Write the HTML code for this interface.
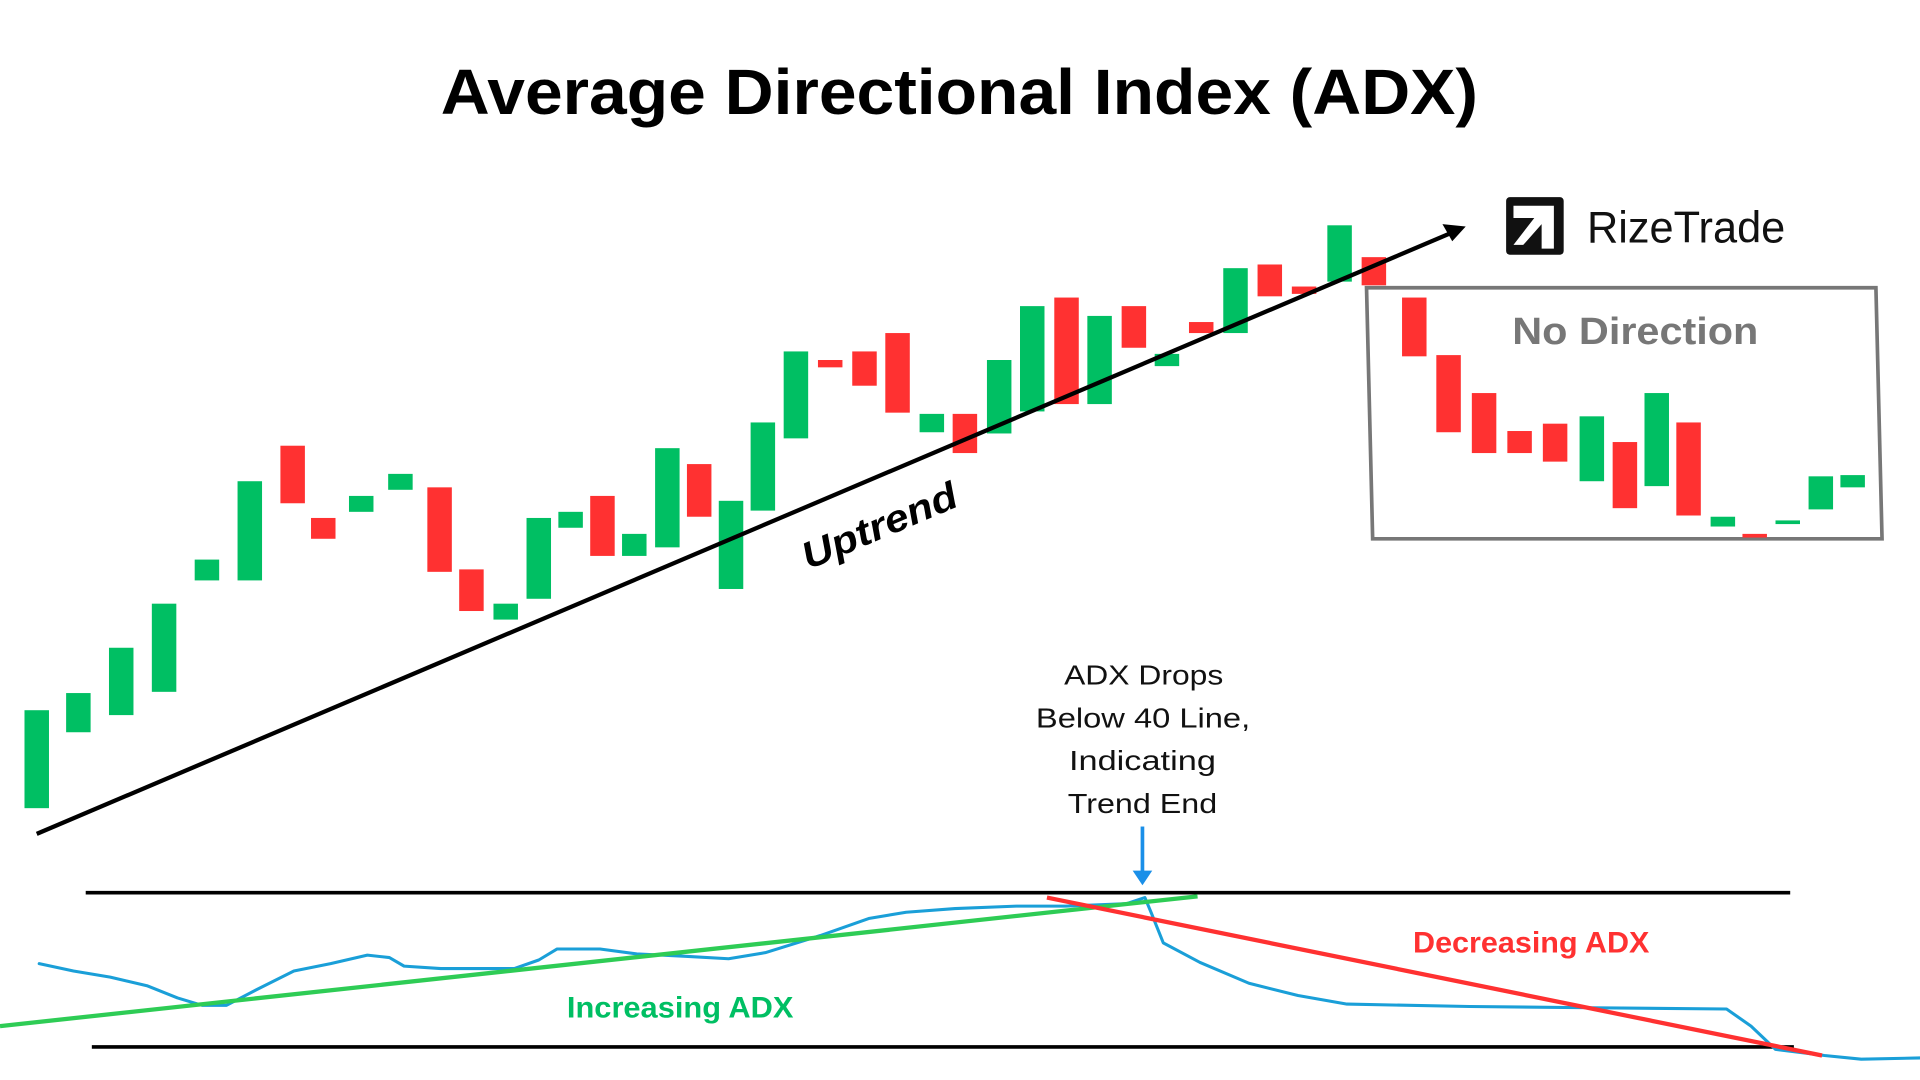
<!DOCTYPE html>
<html><head><meta charset="utf-8"><style>html,body{margin:0;padding:0;background:#fff;}svg{display:block}</style></head>
<body>
<svg width="1920" height="1080" viewBox="0 0 1568 882" preserveAspectRatio="none" xmlns="http://www.w3.org/2000/svg" font-family="Liberation Sans, sans-serif">
<rect width="1568" height="882" fill="#fff"/>
<text x="360" y="93" font-size="52" font-weight="bold" fill="#000" textLength="847" lengthAdjust="spacingAndGlyphs">Average Directional Index (ADX)</text>
<g>
<rect x="1230" y="161" width="47" height="47" rx="3" fill="#111"/>
<path d="M1236 168 H1269 V203 H1259 V183 L1244 200 L1236 200 L1253 178 H1236 Z" fill="#fff"/>
<text x="1296" y="198" font-size="36" fill="#111" textLength="162" lengthAdjust="spacingAndGlyphs">RizeTrade</text>
</g>
<polygon points="1116,235 1532,235 1537,440 1121,440" fill="none" stroke="#777" stroke-width="3"/>
<text x="1235" y="281" font-size="31" font-weight="bold" fill="#777" textLength="201" lengthAdjust="spacingAndGlyphs">No Direction</text>
<g id="c">
<rect x="20" y="580" width="20" height="80" fill="#00bf63"/>
<rect x="54" y="566" width="20" height="32" fill="#00bf63"/>
<rect x="89" y="529" width="20" height="55" fill="#00bf63"/>
<rect x="124" y="493" width="20" height="72" fill="#00bf63"/>
<rect x="159" y="457" width="20" height="17" fill="#00bf63"/>
<rect x="194" y="393" width="20" height="81" fill="#00bf63"/>
<rect x="229" y="364" width="20" height="47" fill="#ff3131"/>
<rect x="254" y="423" width="20" height="17" fill="#ff3131"/>
<rect x="285" y="405" width="20" height="13" fill="#00bf63"/>
<rect x="317" y="387" width="20" height="13" fill="#00bf63"/>
<rect x="349" y="398" width="20" height="69" fill="#ff3131"/>
<rect x="375" y="465" width="20" height="34" fill="#ff3131"/>
<rect x="403" y="493" width="20" height="13" fill="#00bf63"/>
<rect x="430" y="423" width="20" height="66" fill="#00bf63"/>
<rect x="456" y="418" width="20" height="13" fill="#00bf63"/>
<rect x="482" y="405" width="20" height="49" fill="#ff3131"/>
<rect x="508" y="436" width="20" height="18" fill="#00bf63"/>
<rect x="535" y="366" width="20" height="81" fill="#00bf63"/>
<rect x="561" y="379" width="20" height="43" fill="#ff3131"/>
<rect x="587" y="409" width="20" height="72" fill="#00bf63"/>
<rect x="613" y="345" width="20" height="72" fill="#00bf63"/>
<rect x="640" y="287" width="20" height="71" fill="#00bf63"/>
<rect x="668" y="294" width="20" height="6" fill="#ff3131"/>
<rect x="696" y="287" width="20" height="28" fill="#ff3131"/>
<rect x="723" y="272" width="20" height="65" fill="#ff3131"/>
<rect x="751" y="338" width="20" height="15" fill="#00bf63"/>
<rect x="778" y="338" width="20" height="32" fill="#ff3131"/>
<rect x="806" y="294" width="20" height="60" fill="#00bf63"/>
<rect x="833" y="250" width="20" height="86" fill="#00bf63"/>
<rect x="861" y="243" width="20" height="87" fill="#ff3131"/>
<rect x="888" y="258" width="20" height="72" fill="#00bf63"/>
<rect x="916" y="250" width="20" height="34" fill="#ff3131"/>
<rect x="943" y="289" width="20" height="10" fill="#00bf63"/>
<rect x="971" y="263" width="20" height="9" fill="#ff3131"/>
<rect x="999" y="219" width="20" height="53" fill="#00bf63"/>
<rect x="1027" y="216" width="20" height="26" fill="#ff3131"/>
<rect x="1055" y="234" width="20" height="6" fill="#ff3131"/>
<rect x="1084" y="184" width="20" height="46" fill="#00bf63"/>
<rect x="1112" y="210" width="20" height="23" fill="#ff3131"/>
<rect x="1145" y="243" width="20" height="48" fill="#ff3131"/>
<rect x="1173" y="290" width="20" height="63" fill="#ff3131"/>
<rect x="1202" y="321" width="20" height="49" fill="#ff3131"/>
<rect x="1231" y="352" width="20" height="18" fill="#ff3131"/>
<rect x="1260" y="346" width="20" height="31" fill="#ff3131"/>
<rect x="1290" y="340" width="20" height="53" fill="#00bf63"/>
<rect x="1317" y="361" width="20" height="54" fill="#ff3131"/>
<rect x="1343" y="321" width="20" height="76" fill="#00bf63"/>
<rect x="1369" y="345" width="20" height="76" fill="#ff3131"/>
<rect x="1397" y="422" width="20" height="8" fill="#00bf63"/>
<rect x="1423" y="436" width="20" height="3" fill="#ff3131"/>
<rect x="1450" y="425" width="20" height="3" fill="#00bf63"/>
<rect x="1477" y="389" width="20" height="27" fill="#00bf63"/>
<rect x="1503" y="388" width="20" height="10" fill="#00bf63"/>
</g>
<line x1="30" y1="681" x2="1188" y2="189" stroke="#000" stroke-width="3.5"/>
<polygon points="1197,185 1178,183 1186,197" fill="#000"/>
<text transform="translate(720,440) rotate(-23)" x="-65" font-size="31" font-weight="bold" font-style="italic" fill="#000" textLength="135" lengthAdjust="spacingAndGlyphs">Uptrend</text>
<g font-size="23" fill="#111">
<text x="869" y="559" textLength="130" lengthAdjust="spacingAndGlyphs">ADX Drops</text>
<text x="846" y="594" textLength="175" lengthAdjust="spacingAndGlyphs">Below 40 Line,</text>
<text x="873" y="629" textLength="120" lengthAdjust="spacingAndGlyphs">Indicating</text>
<text x="872" y="664" textLength="122" lengthAdjust="spacingAndGlyphs">Trend End</text>
</g>
<line x1="933" y1="675" x2="933" y2="714" stroke="#1a8fe8" stroke-width="3"/>
<polygon points="925,711 941,711 933,723" fill="#1a8fe8"/>
<line x1="70" y1="729" x2="1462" y2="729" stroke="#000" stroke-width="3"/>
<line x1="75" y1="855" x2="1465" y2="855" stroke="#000" stroke-width="3"/>
<polyline fill="none" stroke="#1a9fd8" stroke-width="2.5" stroke-linejoin="round" stroke-linecap="round" points="32,787 60,793 90,798 120,805 145,815 165,821 185,821 210,808 240,793 270,787 300,780 318,782 330,789 360,791 420,791 440,784 455,775 490,775 520,779 560,781 595,783 625,778 670,764 710,750 740,745 780,742 830,740 870,740 920,738 935,733 940,745 950,770 980,786 1020,803 1060,813 1100,820 1200,822 1300,823 1410,824 1430,838 1450,857 1490,862 1520,865 1568,864"/>
<line x1="0" y1="838" x2="978" y2="732" stroke="#2ecc55" stroke-width="3.5"/>
<line x1="855" y1="733" x2="1488" y2="862" stroke="#ff3131" stroke-width="3.5"/>
<text x="463" y="831" font-size="24" font-weight="bold" fill="#00bf63" textLength="185" lengthAdjust="spacingAndGlyphs">Increasing ADX</text>
<text x="1154" y="778" font-size="24" font-weight="bold" fill="#ff3131" textLength="193" lengthAdjust="spacingAndGlyphs">Decreasing ADX</text>
</svg>
</body></html>
